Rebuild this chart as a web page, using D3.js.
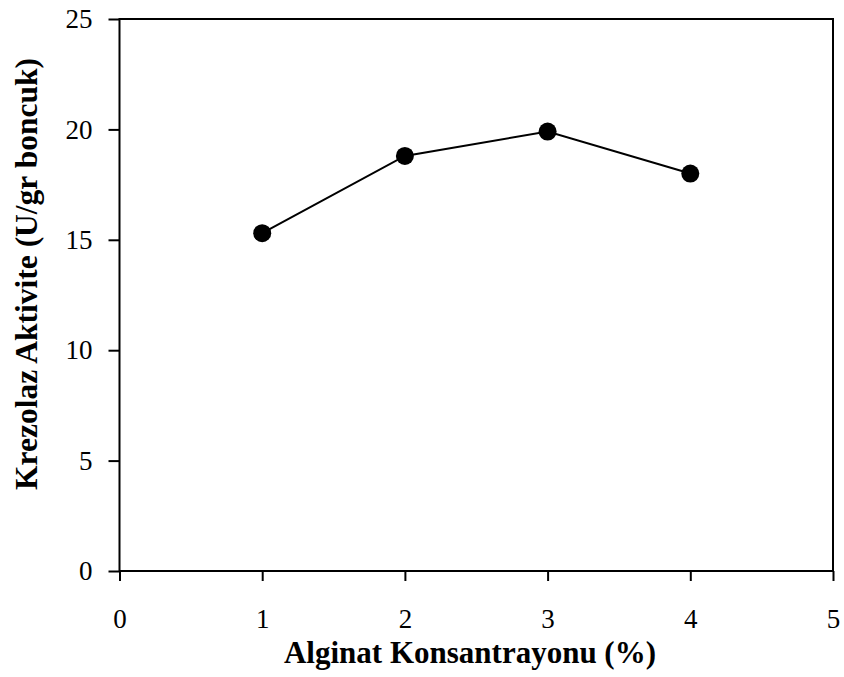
<!DOCTYPE html>
<html>
<head>
<meta charset="utf-8">
<script src="https://cdn.jsdelivr.net/npm/d3@7.9.0/dist/d3.min.js"></script>
<style>
  html, body { margin: 0; padding: 0; background: #fff; }
  svg { display: block; }
  text { font-family: "Liberation Serif", "Times New Roman", serif; fill: #000; }
</style>
</head>
<body>
<svg id="chart" width="844" height="677"></svg>
<script>
const concentrations = [1, 2, 3, 4];
const activity = [15.3, 18.8, 19.9, 18.0];
const xTicks = [0, 1, 2, 3, 4, 5];
const yTicks = [0, 5, 10, 15, 20, 25];
const xTitle = 'Alginat Konsantrayonu (%)';
const yTitle = 'Krezolaz Aktivite (U/gr boncuk)';

const plotLeft = 119.5, plotRight = 833, plotTop = 19, plotBottom = 571;

const svg = d3.select('#chart');

const x = d3.scaleLinear().domain([0, 5]).range([plotLeft, plotRight]);
const y = d3.scaleLinear().domain([0, 25]).range([plotBottom, plotTop]);

// plot frame
svg.append('rect')
  .attr('x', plotLeft).attr('y', plotTop)
  .attr('width', plotRight - plotLeft).attr('height', plotBottom - plotTop)
  .attr('fill', 'none').attr('stroke', '#000').attr('stroke-width', 2);

// x axis
const xAxis = svg.append('g')
  .attr('transform', `translate(0,${plotBottom})`)
  .call(d3.axisBottom(x).tickValues(xTicks).tickFormat(d3.format('d')).tickSize(10));
xAxis.select('.domain').remove();
xAxis.selectAll('line').attr('stroke', '#000').attr('stroke-width', 2);
xAxis.selectAll('text')
  .attr('font-size', 27)
  .attr('font-family', '"Liberation Serif", "Times New Roman", serif')
  .attr('dy', '0')
  .attr('y', 57);

// y axis
const yAxis = svg.append('g')
  .attr('transform', `translate(${plotLeft},0)`)
  .call(d3.axisLeft(y).tickValues(yTicks).tickFormat(d3.format('d')).tickSize(11).tickPadding(16));
yAxis.select('.domain').remove();
yAxis.selectAll('line').attr('stroke', '#000').attr('stroke-width', 2);
yAxis.selectAll('text')
  .attr('font-size', 27)
  .attr('font-family', '"Liberation Serif", "Times New Roman", serif');

// data line + markers
const points = concentrations.map((c, i) => ({ c, v: activity[i] }));

svg.append('path')
  .datum(points)
  .attr('fill', 'none')
  .attr('stroke', '#000')
  .attr('stroke-width', 2)
  .attr('d', d3.line().x(d => x(d.c)).y(d => y(d.v)));

svg.selectAll('circle.pt')
  .data(points)
  .join('circle')
  .attr('class', 'pt')
  .attr('cx', d => x(d.c))
  .attr('cy', d => y(d.v))
  .attr('r', 9)
  .attr('fill', '#000');

// axis titles
svg.append('text')
  .attr('x', 470).attr('y', 663)
  .attr('text-anchor', 'middle')
  .attr('font-size', 31)
  .attr('font-weight', 'bold')
  .text(xTitle);

svg.append('text')
  .attr('transform', 'translate(37,274) rotate(-90)')
  .attr('text-anchor', 'middle')
  .attr('font-size', 31.5)
  .attr('font-weight', 'bold')
  .text(yTitle);
</script>
</body>
</html>
